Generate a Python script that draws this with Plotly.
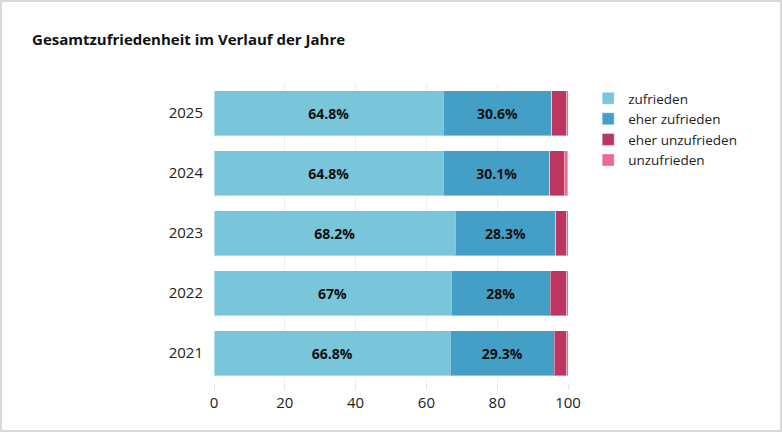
import plotly.graph_objects as go

years = ["2021", "2022", "2023", "2024", "2025"]
series_names = ["zufrieden", "eher zufrieden", "eher unzufrieden", "unzufrieden"]
zufrieden = [66.8, 67.0, 68.2, 64.8, 64.8]
eher_zufrieden = [29.3, 28.0, 28.3, 30.1, 30.6]
eher_unzufrieden = [3.4, 4.7, 3.2, 4.0, 4.1]
unzufrieden = [0.5, 0.3, 0.3, 1.0, 0.5]
colors = ["#79c5da", "#449fc6", "#bc3660", "#ea6b8c"]
show_labels = [True, True, False, False]

font = "'Open Sans', sans-serif"

fig = go.Figure()
for name, vals, col, lab in zip(series_names,
                                [zufrieden, eher_zufrieden, eher_unzufrieden, unzufrieden],
                                colors, show_labels):
    fig.add_trace(go.Bar(
        y=years, x=vals, name=name, orientation="h",
        marker=dict(color=col, line=dict(color="rgba(255,255,255,0.4)", width=1)),
        text=[f"{v:g}%" for v in vals] if lab else None,
        textposition="inside", insidetextanchor="middle",
        textfont=dict(color="#111111", size=14, family=font, weight="bold"),
    ))

fig.update_layout(
    width=782, height=432,
    barmode="stack", bargap=0.25,
    paper_bgcolor="white", plot_bgcolor="white",
    font=dict(family=font, size=14, color="#222222"),
    margin=dict(l=214, r=214, t=83, b=49),
    title=dict(text="<b>Gesamtzufriedenheit im Verlauf der Jahre</b>",
               x=0.041, xanchor="left", y=0.907, yanchor="middle",
               font=dict(size=15, color="#111111", family=font)),
    legend=dict(x=1.057, xanchor="left", y=1.0, yanchor="top",
                font=dict(size=13.5, color="#222222"), traceorder="normal",
                itemwidth=30, tracegroupgap=0),
    xaxis=dict(range=[0, 100], dtick=20, showgrid=True, gridcolor="#eeeeee",
               ticks="outside", ticklen=6, tickcolor="#e6e6e6",
               zeroline=False, showline=False,
               tickfont=dict(size=15, color="#222222")),
    yaxis=dict(showgrid=False, ticks="", ticklabelstandoff=10,
               tickfont=dict(size=15, color="#222222")),
    showlegend=True,
)

fig.add_shape(type="rect", xref="paper", yref="paper",
              x0=-213/354, x1=1 + 213/354, y0=-48/300, y1=1 + 82/300,
              line=dict(color="#d9d9d9", width=2), layer="below")

fig.write_html("out.html", config={"displayModeBar": False},
               post_script="document.body.style.margin='0';")
